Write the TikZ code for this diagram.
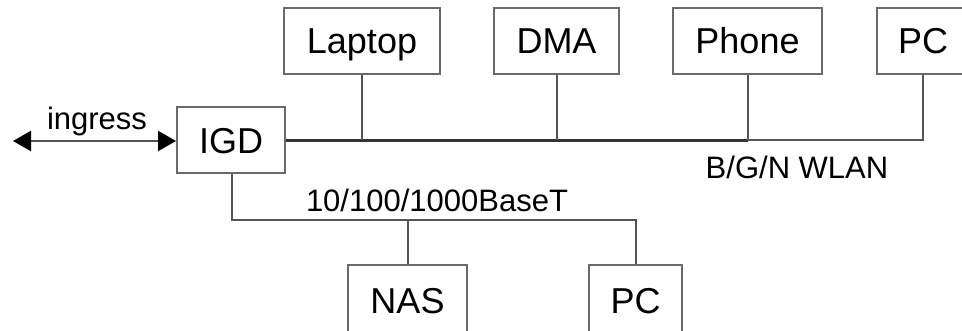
\documentclass[tikz,border=0pt]{standalone}
\usepackage{fontspec}
\setmainfont{Liberation Sans}
\usetikzlibrary{arrows.meta}
\definecolor{wirecol}{HTML}{555555}
\definecolor{boxcol}{HTML}{6A6A6A}
\tikzset{
  dev/.style={draw=boxcol, line width=1pt, fill=white, inner sep=0pt, minimum height=33pt,
    text height=12.9pt, text depth=0pt,
    font=\fontsize{18}{20}\selectfont, text=black},
  lowdev/.style={dev, minimum height=36pt},
  wire/.style={draw=wirecol, line width=1pt},
  bus/.style={draw=black!80, line width=1.5pt},
  lbl/.style={font=\fontsize{15.5}{17}\selectfont, text=black, inner sep=0pt},
  tip/.tip={Triangle[length=9pt,width=10pt,color=black]}
}
\begin{document}
\begin{tikzpicture}[x=0.5pt, y=-0.5pt]
\useasboundingbox (0,0) rectangle (962,331);
\clip (0,0) rectangle (962,331);
% devices
\node[dev, minimum width=54pt] (igd) at (231,140.5) {IGD};
\node[dev, minimum width=78pt] (laptop) at (362,41) {Laptop};
\node[dev, minimum width=62.5pt] (dma) at (556.5,41) {DMA};
\node[dev, minimum width=74.5pt] (phone) at (747.5,41) {Phone};
\node[dev, minimum width=46pt] (pc1) at (923,41) {PC};
\node[lowdev, minimum width=59.5pt] (nas) at (407.5,301) {NAS};
\node[lowdev, minimum width=46.5pt] (pc2) at (635.5,301) {PC};
% ingress
\coordinate (ext) at (13,141);
\draw[draw=wirecol, line width=1.2pt, tip-tip] (ext) -- (igd.west |- ext);
\node[lbl] (ingress) at (97,121) {ingress};
% WLAN bus
\coordinate (busend) at (igd.east -| pc1.south);
\draw[wire] (igd.east -| phone.south) -- (busend) -- (pc1.south);
\draw[bus] (igd.east) -- (igd.east -| phone.south);
\draw[wire] (laptop.south) -- (laptop.south |- igd.east);
\draw[wire] (dma.south) -- (dma.south |- igd.east);
\draw[wire] (phone.south) -- (phone.south |- igd.east);
\node[lbl] (wlan) at (797,167) {B/G/N WLAN};
% wired LAN
\coordinate (lan) at (232,220);
\draw[wire] (igd.south -| lan) -- (lan) -- (lan -| pc2.north) -- (pc2.north);
\draw[wire] (lan -| nas.north) -- (nas.north);
\node[lbl] (base) at (437,200) {10/100/1000BaseT};
\end{tikzpicture}
\end{document}
